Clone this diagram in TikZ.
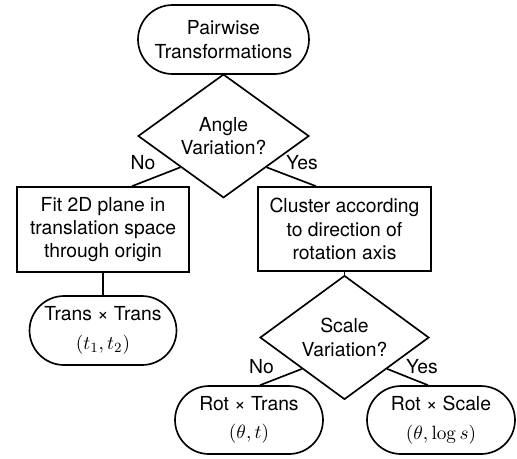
\documentclass[tikz,border=0pt]{standalone}
\usepackage[no-math]{fontspec}
\setmainfont{TeX Gyre Heros}
\usetikzlibrary{positioning,shapes.geometric,shapes.misc}

\tikzset{
  chartfont/.style={font=\fontsize{11}{13.3}\selectfont},
  terminal/.style={draw, rounded rectangle, line width=0.95pt, align=center, inner sep=0pt, chartfont},
  decision/.style={draw, diamond, line width=0.95pt, align=center, inner sep=0pt, chartfont},
  process/.style={draw, rectangle, line width=0.95pt, align=center, inner sep=0pt, chartfont},
  branch/.style={inner sep=0pt, chartfont},
  link/.style={line width=0.95pt}
}

\begin{document}
\begin{tikzpicture}[x=0.02cm,y=-0.02cm]

    \useasboundingbox (0,0) rectangle (517,458);

    % top of the chart
    \node[terminal, minimum width=3.42cm, minimum height=1.38cm] (pairwise) at (223.5,39.5) {Pairwise\\Transformations};
    \node[decision, minimum width=3.42cm, minimum height=1.68cm] (angle) at (223.5,136) {Angle\\Variation?};

    % left branch
    \node[process, minimum width=3.44cm, minimum height=1.7cm] (fitplane) at (103,229.5) {Fit 2D plane in\\translation space\\through origin};
    \node[terminal, minimum width=2.94cm, minimum height=1.38cm] (transtrans) at (103,330.5) {Trans × Trans\\[3pt]$(t_1,t_2)$};

    % right branch
    \node[process, minimum width=3.46cm, minimum height=1.68cm] (cluster) at (344.5,229) {Cluster according\\to direction of\\rotation axis};
    \node[decision, minimum width=3.38cm, minimum height=1.66cm] (scale) at (344.5,337.5) {Scale\\Variation?};
    \node[terminal, minimum width=2.96cm, minimum height=1.36cm] (rottrans) at (249,420) {Rot × Trans\\[3pt]$(\theta,t)$};
    \node[terminal, minimum width=2.96cm, minimum height=1.36cm] (rotscale) at (441,420) {Rot × Scale\\[3pt]$(\theta,\log s)$};

    \draw[link] (pairwise) -- (angle);
    \draw[link] (angle.south west) -- ([xshift=0.58cm]fitplane.north);
    \draw[link] (angle.south east) -- ([xshift=-0.57cm]cluster.north);
    \draw[link] (fitplane) -- (transtrans);
    \draw[link] (cluster) -- (scale);
    \draw[link] (scale.south west) -- ([xshift=0.22cm]rottrans.north);
    \draw[link] (scale.south east) -- ([xshift=-0.26cm]rotscale.north);

    % branch labels
    \node[branch] (noangle) at (143,163) {No};
    \node[branch] (yesangle) at (302,163) {Yes};
    \node[branch] (noscale) at (261.5,367) {No};
    \node[branch] (yesscale) at (422,367) {Yes};

\end{tikzpicture}
\end{document}
